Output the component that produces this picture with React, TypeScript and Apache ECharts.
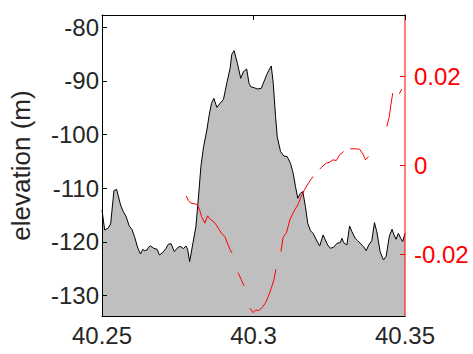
import React, { useEffect, useRef } from "react";
import * as echarts from "echarts";

const xTicks = [40.25, 40.3, 40.35];
const elevTicks = [-130, -120, -110, -100, -90, -80];
const gradTicks = [-0.02, 0, 0.02];

const elevX = [
  40.25, 40.25088, 40.25197, 40.25285, 40.25394, 40.25482, 40.25613, 40.25701, 40.25789, 40.25898,
  40.25986, 40.26073, 40.26183, 40.26271, 40.26347, 40.26402, 40.2649, 40.26533, 40.26599, 40.26709,
  40.26818, 40.26895, 40.27004, 40.27114, 40.27191, 40.27278, 40.27388, 40.27475, 40.27552, 40.27607,
  40.27683, 40.27771, 40.27826, 40.27892, 40.2799, 40.281, 40.28176, 40.28264, 40.28352, 40.28461,
  40.28538, 40.28615, 40.28691, 40.2879, 40.28899, 40.29009, 40.29118, 40.29228, 40.29283, 40.29359,
  40.29469, 40.29578, 40.29666, 40.29776, 40.29852, 40.29907, 40.30016, 40.30126, 40.30257, 40.30345,
  40.30455, 40.30586, 40.30652, 40.30728, 40.30783, 40.30893, 40.31002, 40.31112, 40.31221, 40.31309,
  40.31386, 40.31462, 40.3155, 40.31627, 40.31714, 40.31791, 40.31879, 40.31966, 40.32076, 40.32185,
  40.32295, 40.32372, 40.32448, 40.32536, 40.32645, 40.32755, 40.32864, 40.32919, 40.32974, 40.33083,
  40.33171, 40.33248, 40.33357, 40.33434, 40.33543, 40.33631, 40.33719, 40.33806, 40.33905, 40.33992,
  40.34069, 40.34179, 40.34288, 40.34376, 40.34485, 40.34573, 40.34639, 40.34704, 40.34781, 40.34858,
  40.34923, 40.35,
];
const elevY = [
  -114.04, -117.76, -117.45, -116.65, -110.43, -110.19, -113.11, -114.35, -115.16, -117.02,
  -117.64, -119.01, -121.18, -122.24, -121.37, -121.61, -121.49, -120.99, -120.75, -121.18,
  -121.37, -122.42, -121.99, -121.18, -120.43, -120.31, -121.8, -121.18, -120.87, -120.87,
  -121.24, -120.75, -121.37, -123.66, -120.56, -117.14, -112.17, -105.96, -102.24, -99.13,
  -96.34, -94.16, -93.23, -94.91, -94.16, -93.42, -90.43, -87.64, -85.03, -84.35,
  -86.71, -89.5, -88.26, -87.76, -90.43, -91.06, -91.24, -91.49, -91.37, -90.12,
  -88.57, -87.2, -90.43, -96.65, -100.37, -103.17, -103.98, -104.1, -105.34, -107.2,
  -109.69, -111.86, -110.93, -110.62, -113.42, -116.52, -117.89, -118.39, -119.63, -120.75,
  -118.7, -119.63, -120.56, -121.18, -120.99, -120.25, -120.12, -119.32, -120.12, -120.56,
  -117.02, -118.07, -119.32, -119.75, -120.37, -120.87, -121.61, -120.56, -119.75, -116.4,
  -118.07, -121.8, -123.35, -122.73, -118.88, -117.64, -118.7, -119.5, -118.39, -119.32,
  -119.94, -118.39,
];

const gradX = [
  40.27782, 40.27848, 40.27935, 40.28067, 40.28154, 40.2822, 40.28286, 40.28395, 40.28483, 40.28571,
  40.2868, 40.28768, 40.28856, 40.28943, 40.29053, 40.2914, 40.29228, 40.29294,
  40.2939,
  40.29491, 40.296, 40.29688,
  40.2979,
  40.29885, 40.29984, 40.30071, 40.30181, 40.3029, 40.30389, 40.30487, 40.30586, 40.30674, 40.30739,
  40.3082,
  40.30904, 40.3098, 40.3109, 40.31199, 40.31331, 40.31462, 40.31572, 40.31681, 40.31824, 40.31966,
  40.3208,
  40.32185, 40.32295, 40.32404, 40.32514, 40.32623, 40.32733, 40.32842, 40.32974,
  40.3308,
  40.33193, 40.33357, 40.335, 40.33609, 40.33697, 40.33795,
  40.341,
  40.34398, 40.34485, 40.34529, 40.34595,
  40.347,
  40.34814, 40.3489,
];
const gradY = [
  -0.00682, -0.00787, -0.00846, -0.00861, -0.00884, -0.00996, -0.01146, -0.01296, -0.01131, -0.01206,
  -0.01258, -0.01333, -0.01431, -0.01521, -0.01596, -0.01745, -0.01895, -0.0197,
  null,
  -0.02405, -0.02569, -0.02704,
  null,
  -0.03206, -0.03304, -0.03244, -0.03259, -0.03184, -0.03094, -0.02944, -0.02757, -0.02569, -0.0233,
  null,
  -0.01933, -0.01611, -0.01506, -0.01221, -0.01034, -0.00884, -0.00697, -0.00547, -0.00382, -0.00247,
  null,
  -0.00082, -0.00007, 0.00052, 0.00075, 0.00127, 0.00112, 0.0024, 0.00315,
  null,
  0.00375, 0.00375, 0.00367, 0.00262, 0.00127, 0.00202,
  null,
  0.00876, 0.01101, 0.01341, 0.01626,
  null,
  0.01611, 0.01715,
];

const FONT = "Liberation Sans, Arial, Helvetica, sans-serif";
const TXT = "#262626";

export default function App() {
  const ref = useRef<HTMLDivElement>(null);
  useEffect(() => {
    if (!ref.current) return;
    const chart = echarts.init(ref.current, undefined, { renderer: "svg" });
    chart.setOption({
      animation: false,
      backgroundColor: "#ffffff",
      grid: { left: 100, right: 68, top: 15, bottom: 38 },
      xAxis: [
        {
          type: "value",
          min: 40.25,
          max: 40.35,
          position: "bottom",
          z: 10,
          axisLine: { onZero: false, lineStyle: { color: "#000", width: 1 } },
          axisTick: { show: false },
          splitLine: { show: false },
          axisLabel: {
            customValues: xTicks,
            color: TXT,
            fontSize: 24,
            fontFamily: FONT,
            margin: 7,
            formatter: (v: number) => String(Math.round(v * 100) / 100),
          },
        },
        {
          type: "value",
          min: 40.25,
          max: 40.35,
          position: "top",
          z: 10,
          axisLine: { onZero: false, lineStyle: { color: "#000", width: 1 } },
          axisTick: { show: true, inside: true, length: 5, customValues: xTicks, lineStyle: { color: "#000" } },
          axisLabel: { show: false },
          splitLine: { show: false },
        },
      ],
      yAxis: [
        {
          type: "value",
          min: -133.8,
          max: -77.7,
          position: "left",
          z: 10,
          name: "elevation (m)",
          nameLocation: "middle",
          nameGap: 68,
          nameTextStyle: { color: TXT, fontSize: 26, fontFamily: FONT },
          axisLine: { show: true, onZero: false, lineStyle: { color: "#000", width: 1 } },
          axisTick: { show: true, inside: true, length: 5, customValues: elevTicks, lineStyle: { color: "#000" } },
          axisLabel: { customValues: elevTicks, color: TXT, fontSize: 24, fontFamily: FONT, margin: 3 },
          splitLine: { show: false },
        },
        {
          type: "value",
          min: -0.0338,
          max: 0.0338,
          position: "right",
          z: 10,
          axisLine: { show: true, onZero: false, lineStyle: { color: "rgba(255,0,0,0.5)", width: 2 } },
          axisTick: { show: true, inside: true, length: 5, customValues: gradTicks, lineStyle: { color: "#ff0000" } },
          axisLabel: {
            customValues: gradTicks,
            color: "#ff0000",
            fontSize: 24,
            fontFamily: FONT,
            margin: 9,
            formatter: (v: number) => (Math.abs(v) < 1e-9 ? "0" : String(Math.round(v * 100) / 100)),
          },
          splitLine: { show: false },
        },
      ],
      series: [
        {
          type: "line",
          xAxisIndex: 0,
          yAxisIndex: 0,
          data: elevX.map((x, i) => [x, elevY[i]]),
          symbol: "none",
          lineStyle: { color: "#000", width: 1 },
          areaStyle: { color: "#bfbfbf", opacity: 1, origin: "start" },
          z: 2,
        },
        {
          type: "line",
          xAxisIndex: 0,
          yAxisIndex: 1,
          data: gradX.map((x, i) => [x, gradY[i] === null ? "-" : gradY[i]]),
          symbol: "none",
          connectNulls: false,
          lineStyle: { color: "#ff0000", width: 1 },
          z: 3,
        },
      ],
    });
    return () => chart.dispose();
  }, []);
  return <div ref={ref} style={{ width: 473, height: 354, position: "absolute", left: 0, top: 0 }} />;
}
